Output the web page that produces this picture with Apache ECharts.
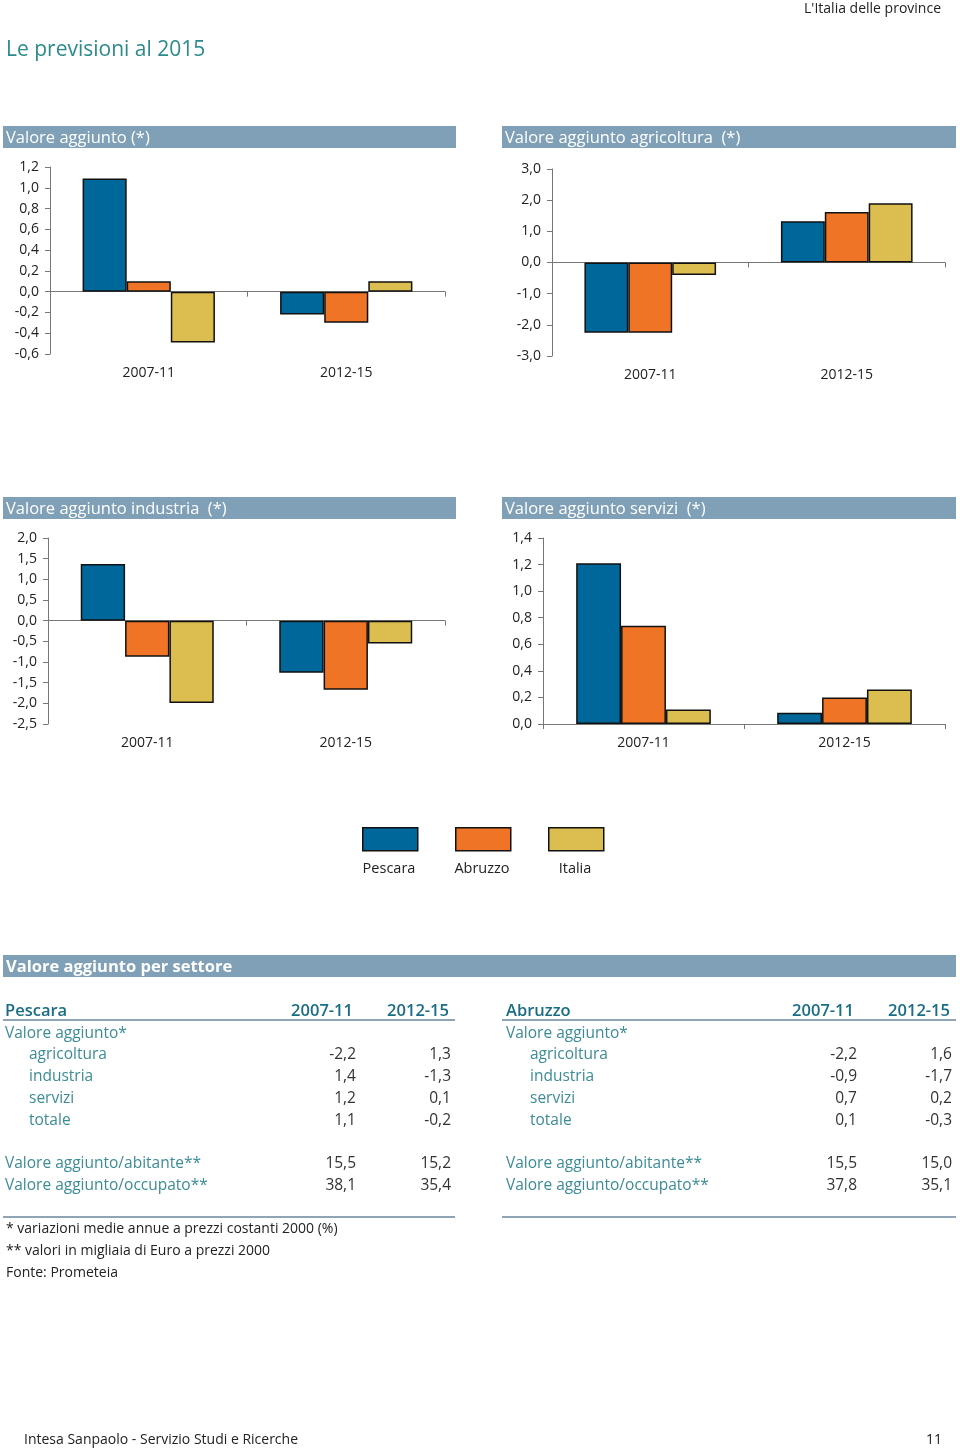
<!DOCTYPE html>
<html>
<head>
<meta charset="utf-8">
<script src="https://cdn.jsdelivr.net/npm/echarts@6/dist/echarts.min.js"></script>
<style>
  html, body { margin:0; padding:0; background:#fff; }
  body { width:960px; height:1450px; position:relative; font-family:"Open Sans","Noto Sans",sans-serif; overflow:hidden; }
  #chart { position:absolute; left:0; top:0; width:960px; height:1450px; }
  .abs { position:absolute; white-space:pre; z-index:2; }
  .bar { position:absolute; background:#7fa0b7; z-index:1; white-space:pre; }
  .bartxt { color:#fff; font-size:16.5px; line-height:22px; padding-left:3px; }
  .r { text-align:right; }
</style>
</head>
<body>
<div id="chart"></div>
<script>
// ---------- DATA ----------
var categories = ['2007-11', '2012-15'];
var seriesNames = ['Pescara', 'Abruzzo', 'Italia'];
// Valore aggiunto (totale)
var totPescara = [1.09, -0.22];
var totAbruzzo = [0.10, -0.30];
var totItalia  = [-0.49, 0.10];
// agricoltura
var agrPescara = [-2.25, 1.32];
var agrAbruzzo = [-2.25, 1.62];
var agrItalia  = [-0.40, 1.90];
// industria
var indPescara = [1.37, -1.26];
var indAbruzzo = [-0.87, -1.67];
var indItalia  = [-1.99, -0.55];
// servizi
var serPescara = [1.21, 0.085];
var serAbruzzo = [0.74, 0.20];
var serItalia  = [0.11, 0.26];
// panel titles
var panelTitles = ['Valore aggiunto (*)', 'Valore aggiunto agricoltura  (*)', 'Valore aggiunto industria  (*)', 'Valore aggiunto servizi  (*)'];
// table
var tableCols = ['2007-11', '2012-15'];
var rowLabels = ['Valore aggiunto*', 'agricoltura', 'industria', 'servizi', 'totale', 'Valore aggiunto/abitante**', 'Valore aggiunto/occupato**'];
var pescaraTable = [null, ['-2,2', '1,3'], ['1,4', '-1,3'], ['1,2', '0,1'], ['1,1', '-0,2'], ['15,5', '15,2'], ['38,1', '35,4']];
var abruzzoTable = [null, ['-2,2', '1,6'], ['-0,9', '-1,7'], ['0,7', '0,2'], ['0,1', '-0,3'], ['15,5', '15,0'], ['37,8', '35,1']];
var footnotes = ['* variazioni medie annue a prezzi costanti 2000 (%)', '** valori in migliaia di Euro a prezzi 2000', 'Fonte: Prometeia'];

// ---------- STATIC TEXT / BARS ----------
function addDiv(cls, style, text) {
  var d = document.createElement('div');
  d.className = cls;
  d.setAttribute('style', style);
  if (text !== undefined) d.textContent = text;
  document.body.appendChild(d);
  return d;
}
addDiv('abs', 'right:19px;top:-2px;font-size:14px;color:#222;line-height:20px;', "L'Italia delle province");
addDiv('abs', 'left:6px;top:33px;font-size:21px;color:#2a8a8c;line-height:30px;', 'Le previsioni al 2015');

var hdr = [[3, 126, 453], [502, 126, 454], [3, 497, 453], [502, 497, 454]];
hdr.forEach(function (h, i) {
  addDiv('bar bartxt', 'left:' + h[0] + 'px;top:' + h[1] + 'px;width:' + (h[2] - 3) + 'px;height:22px;', panelTitles[i]);
});
addDiv('bar bartxt', 'left:3px;top:955px;width:950px;height:22px;font-weight:bold;', 'Valore aggiunto per settore');

// legend labels
[['Pescara', 389], ['Abruzzo', 482], ['Italia', 575]].forEach(function (l) {
  addDiv('abs', 'left:' + (l[1] - 50) + 'px;width:100px;text-align:center;top:858px;font-size:14.5px;color:#222;line-height:20px;', l[0]);
});

// tables
function buildTable(name, data, xLabel, xIndent, xRight1, xRight2, lineL, lineR) {
  var hy = 1010;
  var hs = 'font-size:16.5px;line-height:22px;color:#1a6d86;font-weight:600;';
  addDiv('abs', 'left:' + xLabel + 'px;top:' + (hy - 11) + 'px;' + hs, name);
  addDiv('abs r', 'left:' + (xRight1 - 3 - 120) + 'px;width:120px;top:' + (hy - 11) + 'px;' + hs, tableCols[0]);
  addDiv('abs r', 'left:' + (xRight2 - 2 - 120) + 'px;width:120px;top:' + (hy - 11) + 'px;' + hs, tableCols[1]);
  addDiv('abs', 'left:' + lineL + 'px;width:' + (lineR - lineL) + 'px;top:1019px;height:2px;background:#8fa5b5;');
  var ys = [1032, 1053, 1075, 1097, 1119, 1162, 1184];
  rowLabels.forEach(function (lab, i) {
    var x = (i >= 1 && i <= 4) ? xIndent : xLabel;
    addDiv('abs', 'left:' + x + 'px;top:' + (ys[i] - 11) + 'px;font-size:15.5px;line-height:22px;color:#3b8c97;', lab);
    if (data[i]) {
      addDiv('abs r', 'left:' + (xRight1 - 120) + 'px;width:120px;top:' + (ys[i] - 11) + 'px;font-size:15.5px;line-height:22px;color:#333;', data[i][0]);
      addDiv('abs r', 'left:' + (xRight2 - 120) + 'px;width:120px;top:' + (ys[i] - 11) + 'px;font-size:15.5px;line-height:22px;color:#333;', data[i][1]);
    }
  });
  addDiv('abs', 'left:' + lineL + 'px;width:' + (lineR - lineL) + 'px;top:1216px;height:2px;background:#8fa5b5;');
}
buildTable('Pescara', pescaraTable, 5, 29, 356, 451, 3, 455);
buildTable('Abruzzo', abruzzoTable, 506, 530, 857, 952, 502, 956);
footnotes.forEach(function (f, i) {
  addDiv('abs', 'left:6px;top:' + (1228 + i * 22 - 11) + 'px;font-size:14px;line-height:22px;color:#222;', f);
});
addDiv('abs', 'left:24px;top:1429px;font-size:14px;line-height:20px;color:#222;', 'Intesa Sanpaolo - Servizio Studi e Ricerche');
addDiv('abs', 'right:18px;top:1429px;font-size:14px;line-height:20px;color:#222;', '11');

// ---------- CHART ----------
var colors = ['#00679a', '#ef7426', '#dcbd4f'];
var fmt = function (v) { return v.toFixed(1).replace('.', ','); };
var grids = [
  { left: 50, right: 515, top: 167, bottom: 1096, min: -0.6, max: 1.2, interval: 0.2, data: [totPescara, totAbruzzo, totItalia] },
  { left: 552, right: 15, top: 169, bottom: 1094, min: -3, max: 3, interval: 1, data: [agrPescara, agrAbruzzo, agrItalia] },
  { left: 48, right: 515, top: 538, bottom: 726, min: -2.5, max: 2, interval: 0.5, data: [indPescara, indAbruzzo, indItalia] },
  { left: 543, right: 15, top: 538, bottom: 726, min: 0, max: 1.4, interval: 0.2, data: [serPescara, serAbruzzo, serItalia] }
];
var option = {
  animation: false,
  textStyle: { fontFamily: '"Open Sans","Noto Sans",sans-serif' },
  grid: [], xAxis: [], yAxis: [], series: [],
  legend: seriesNames.map(function (n, i) {
    return {
      data: [n], left: [362, 455, 548][i], top: 827, padding: 0,
      icon: 'rect', itemWidth: 55, itemHeight: 23,
      itemStyle: { borderColor: '#111', borderWidth: 1.5 },
      formatter: function () { return ''; },
      selectedMode: false
    };
  })
};
grids.forEach(function (g, gi) {
  option.grid.push({ left: g.left, right: g.right, top: g.top, bottom: g.bottom });
  option.xAxis.push({
    type: 'category', gridIndex: gi, data: categories,
    axisLine: { onZero: true, lineStyle: { color: '#777', width: 1 } },
    axisTick: { show: true, length: 5, inside: false, lineStyle: { color: '#777' } },
    axisLabel: { show: false }
  });
  option.xAxis.push({
    type: 'category', gridIndex: gi, data: categories, position: 'bottom',
    axisLine: { show: false, onZero: false }, axisTick: { show: false },
    axisLabel: { show: true, margin: 12, fontSize: 14, color: '#222' }
  });
  option.yAxis.push({
    type: 'value', gridIndex: gi, min: g.min, max: g.max, interval: g.interval,
    axisLine: { show: true, lineStyle: { color: '#777' } },
    axisTick: { show: true, length: 5, lineStyle: { color: '#777' } },
    splitLine: { show: false },
    axisLabel: { formatter: fmt, fontSize: 14, color: '#222', margin: 11 }
  });
  seriesNames.forEach(function (n, si) {
    option.series.push({
      name: n, type: 'bar', xAxisIndex: gi * 2, yAxisIndex: gi,
      data: g.data[si], barGap: '0%', barCategoryGap: '33%',
      itemStyle: { color: colors[si], borderColor: '#111', borderWidth: 1.5 }
    });
  });
});
var chart = echarts.init(document.getElementById('chart'), null, { renderer: 'canvas' });
chart.setOption(option);
</script>
</body>
</html>
